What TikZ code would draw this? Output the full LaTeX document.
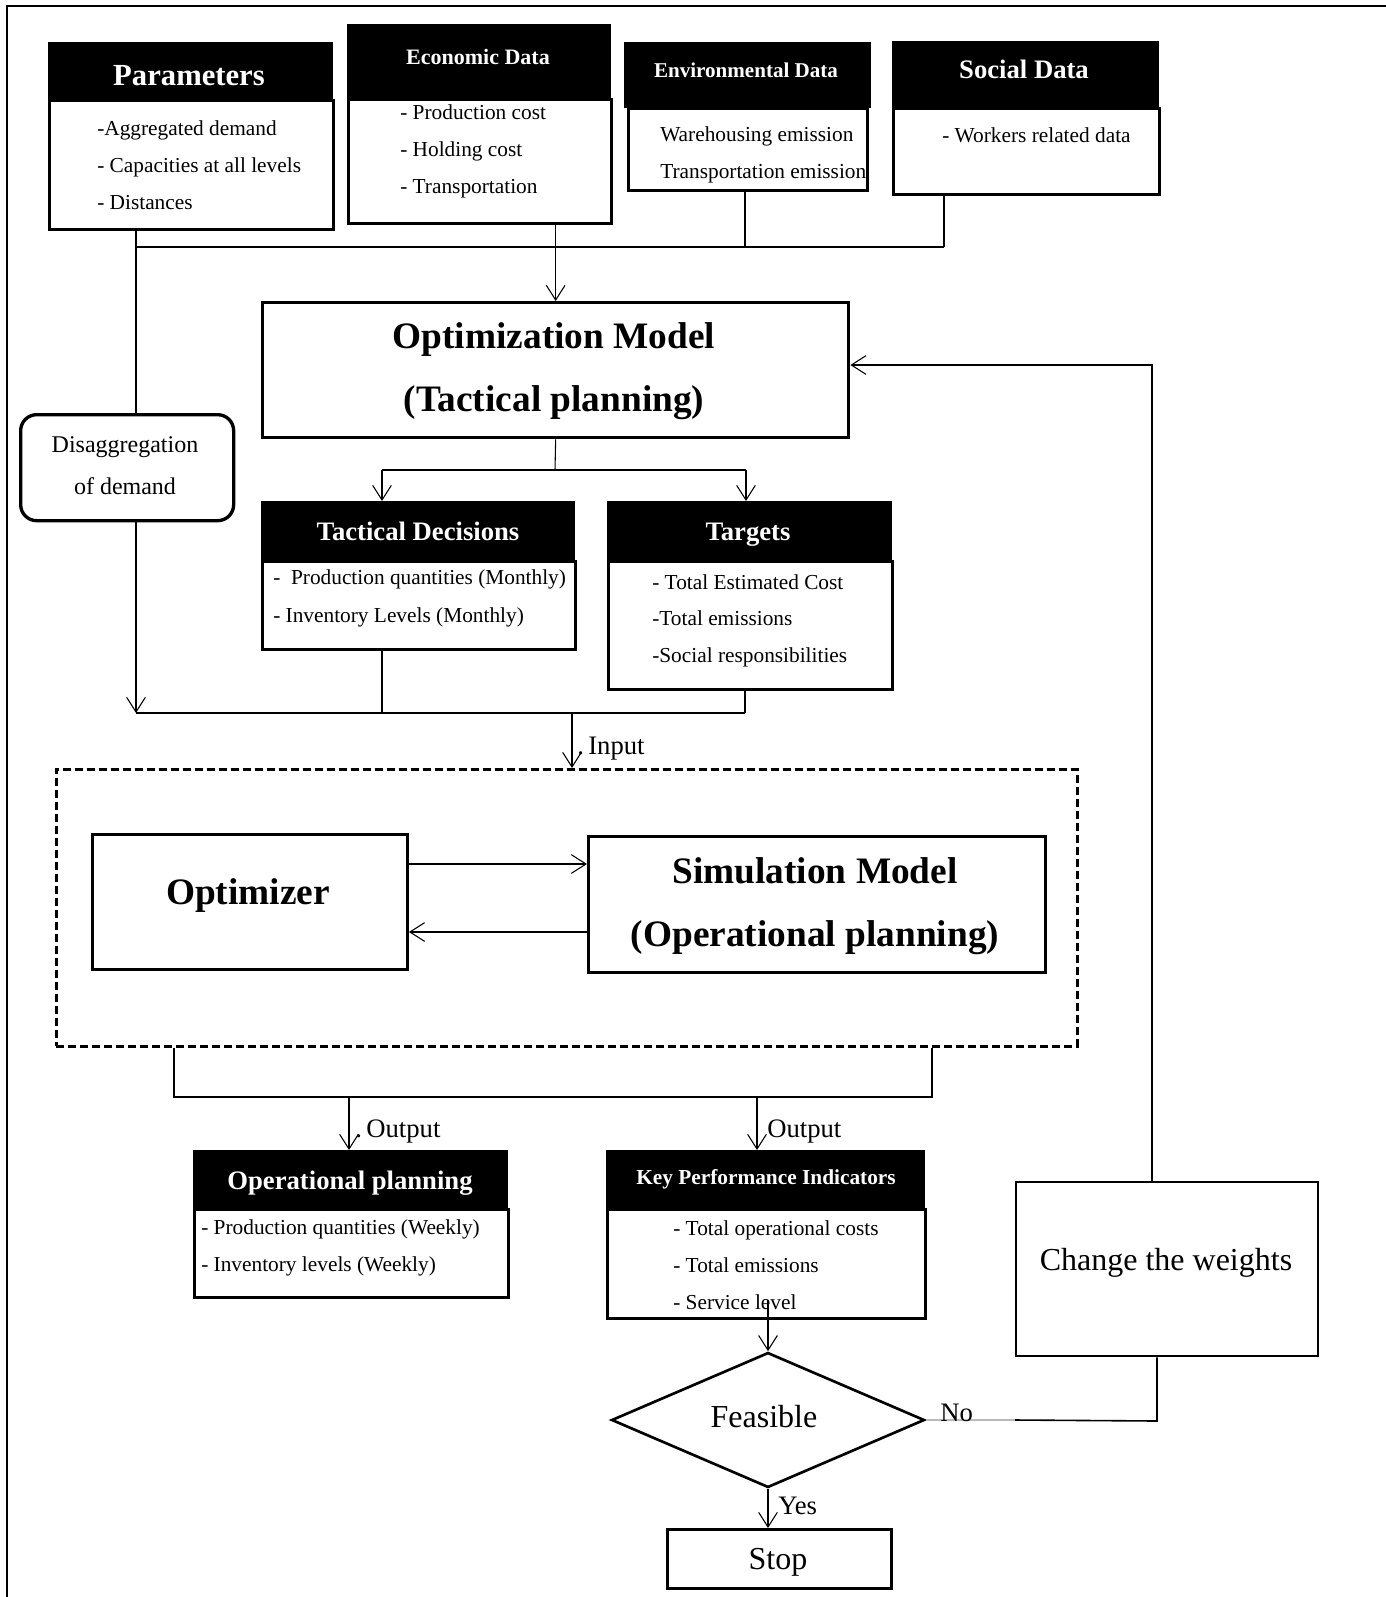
\documentclass[tikz,border=0pt]{standalone}
\usepackage{fontspec}
\setmainfont{Liberation Serif}
\usetikzlibrary{arrows.meta,shapes.geometric}
\begin{document}
\begin{tikzpicture}[x=0.75pt,y=-0.75pt,
  hdr/.style={fill=black,draw=black,line width=1pt,inner sep=0,anchor=north west},
  bodyb/.style={draw=black,line width=2pt,inner sep=0,anchor=north west},
  wh/.style 2 args={minimum width=#1*0.75pt,minimum height=#2*0.75pt},
  txt/.style={inner sep=0,text height=0.68em,text depth=0pt},
  item/.style={txt,anchor=west,font=\fontsize{16pt}{18pt}\selectfont},
  ttl/.style={txt,text=white,font=\bfseries\fontsize{#1}{#1}\selectfont},
  big/.style={txt,font=\bfseries\fontsize{28pt}{30pt}\selectfont},
  plain/.style={txt,font=\fontsize{#1}{#1}\selectfont},
  bus/.style={line width=1.6pt},
  thin/.style={line width=0.8pt},
  arr/.style={thin,-{Straight Barb[length=11pt,width=14pt,line width=0.8pt]}},
]
\useasboundingbox (0,0) rectangle (1386,1597);
% frame (left and top only)
\draw[line width=1.5pt] (7,1597) -- (7,6) -- (1386,6);

% Parameters
\node[bodyb,wh={284}{129}] (paramB) at (48,99) {};
\node[hdr,wh={284}{57}] (paramH) at (48,42) {};
\node[ttl=23pt] (paramT) at (189,81) {Parameters};
\node[item] (p1) at (97,131) {-Aggregated demand};
\node[item] (p2) at (97,168) {- Capacities at all levels};
\node[item] (p3) at (97,205) {- Distances};

% Economic
\node[bodyb,wh={263}{124}] (econB) at (347,98) {};
\node[hdr,wh={263}{74}] (econH) at (347,24) {};
\node[ttl=16.5pt] (econT) at (478,60) {Economic Data};
\node[item] (e1) at (400,115) {- Production cost};
\node[item] (e2) at (400,152) {- Holding cost};
\node[item] (e3) at (400,189) {- Transportation};

% Environmental
\node[bodyb,wh={239}{82}] (envB) at (627,107) {};
\node[hdr,wh={246}{65}] (envH) at (624,42) {};
\node[ttl=15.8pt] (envT) at (746,73) {Environmental Data};
\node[item] (v1) at (660,137) {Warehousing emission};
\node[item] (v2) at (660,174) {Transportation emission};

% Social
\node[bodyb,wh={266}{86}] (socB) at (892,107) {};
\node[hdr,wh={266}{66}] (socH) at (892,41) {};
\node[ttl=20pt] (socT) at (1024,74) {Social Data};
\node[item] (s1) at (942,138) {- Workers related data};

% Optimization model
\node[bodyb,line width=2.5pt,wh={586}{135}] (optim) at (261,301) {};
\node[big] (o1) at (554,344) {Optimization Model};
\node[big] (o2) at (554,407) {(Tactical planning)};

% Disaggregation
\node[bodyb,line width=2.5pt,rounded corners=12pt,wh={213}{106}] (disagg) at (19,413) {};
\node[plain=18pt] (d1) at (125,448) {Disaggregation};
\node[plain=18pt] (d2) at (125,490) {of demand};

% Tactical decisions
\node[bodyb,wh={313}{88}] (tactB) at (261,560) {};
\node[hdr,wh={313}{59}] (tactH) at (261,501) {};
\node[ttl=20pt] (tactT) at (418,536) {Tactical Decisions};
\node[item] (t1) at (273,580) {-\ \ Production quantities (Monthly)};
\node[item] (t2) at (273,618) {- Inventory Levels (Monthly)};

% Targets
\node[bodyb,wh={284}{128}] (targB) at (607,560) {};
\node[hdr,wh={284}{59}] (targH) at (607,501) {};
\node[ttl=20pt] (targT) at (748,536) {Targets};
\node[item] (g1) at (652,585) {- Total Estimated Cost};
\node[item] (g2) at (652,621) {-Total emissions};
\node[item] (g3) at (652,658) {-Social responsibilities};

% Dashed container
\node[bodyb,line width=2pt,dashed,dash pattern=on 6pt off 3pt,wh={1021}{277}] (dash) at (55,768) {};
\node[bodyb,line width=2.2pt,wh={315}{135}] (optz) at (91,833) {};
\node[big] (oz) at (248,900) {Optimizer};
\node[bodyb,line width=2.2pt,wh={457}{136}] (sim) at (587,835) {};
\node[big] (sm1) at (815,879) {Simulation Model};
\node[big] (sm2) at (815,942) {(Operational planning)};

% Operational planning
\node[bodyb,wh={314}{88}] (operB) at (193,1208) {};
\node[hdr,wh={314}{58}] (operH) at (193,1150) {};
\node[ttl=20pt] (operT) at (350,1185) {Operational planning};
\node[item] (op1) at (201,1230) {- Production quantities (Weekly)};
\node[item] (op2) at (201,1267) {- Inventory levels (Weekly)};

% KPI
\node[bodyb,wh={318}{109}] (kpiB) at (606,1208) {};
\node[hdr,wh={318}{58}] (kpiH) at (606,1150) {};
\node[ttl=16pt] (kpiT) at (766,1180) {Key Performance Indicators};
\node[item] (k1) at (673,1231) {- Total operational costs};
\node[item] (k2) at (673,1268) {- Total emissions};
\node[item] (k3) at (673,1305) {- Service level};

% Decision, stop, change weights
\node[diamond,draw,line width=2pt,inner sep=0,minimum width=313*0.75pt,minimum height=135*0.75pt] (feas) at (768,1420) {};
\node[plain=24pt] (feasT) at (764,1423) {Feasible};
\node[bodyb,line width=2.2pt,wh={224}{59}] (stop) at (666,1528) {};
\node[plain=24pt] (stopT) at (778,1565) {Stop};
\node[bodyb,line width=1.8pt,wh={302}{174}] (chw) at (1015,1181) {};
\node[plain=24pt] (chwT) at (1166,1266) {Change the weights};

% ---- connectors ----
\coordinate (busL) at (136,247);
\coordinate (busR) at (944,247);
\draw[bus] (busL) -- (busR);
\draw[bus] (busL |- paramB.south) -- (busL);
\draw[thin] (busL) -- (busL |- disagg.north);
\draw[arr] (optim.north |- econB.south) -- (optim.north);
\draw[bus] (envB.south -| 745,0) -- (745,247);
\draw[bus] (busR |- socB.south) -- (busR);

\coordinate (split) at (555,470);
\coordinate (sL) at (382,470);
\coordinate (sR) at (746,470);
\draw[thin] (optim.south) -- (split);
\draw[bus] (sL) -- (sR);
\draw[arr] (sL) -- (sL |- tactH.north);
\draw[arr] (sR) -- (sR |- targH.north);

\coordinate (bus2L) at (136,713);
\coordinate (bus2R) at (745,713);
\draw[arr] (busL |- disagg.south) -- (bus2L);
\draw[bus] (bus2L) -- (bus2R);
\draw[bus] (sL |- tactB.south) -- (sL |- bus2L);
\draw[bus] (bus2R |- targB.south) -- (bus2R);

\coordinate (inp) at (572,713);
\draw[arr] (inp) -- (inp |- dash.north);
\node[plain=20pt,anchor=west] (inpT) at (577,750) {.\,Input};

\draw[arr] (optz.east |- 0,864) -- (sim.west |- 0,864);
\draw[arr] (sim.west |- 0,932) -- (optz.east |- 0,932);

\coordinate (oL) at (174,1097);
\coordinate (oR) at (932,1097);
\draw[bus] (oL |- dash.south) -- (oL) -- (oR) -- (oR |- dash.south);
\coordinate (o1c) at (349,1097);
\coordinate (o2c) at (757,1097);
\draw[arr] (o1c) -- (o1c |- operH.north);
\draw[arr] (o2c) -- (o2c |- kpiH.north);
\node[plain=20pt,anchor=west] (out1) at (355,1133) {.\,Output};
\node[plain=20pt,anchor=west] (out2) at (767,1133) {Output};

\draw[arr] (feas.north |- 0,1300) -- (feas.north);
\draw[arr] (feas.south) -- (feas.south |- stop.north);
\node[plain=20pt,anchor=west] (yesT) at (778,1510) {Yes};

\coordinate (nc) at (1157,1421);
\draw[gray!55,line width=1.6pt] (feas.east) -- (feas.east -| chw.south west);
\draw[thin,line width=1.2pt] (feas.east -| chw.south west) -- (nc) -- (nc |- chw.south);
\node[plain=20pt,anchor=west] (noT) at (940,1417) {No};

\coordinate (fb) at (1152,365);
\draw[arr] (fb |- chw.north) -- (fb) -- (fb -| optim.east);
\end{tikzpicture}
\end{document}
